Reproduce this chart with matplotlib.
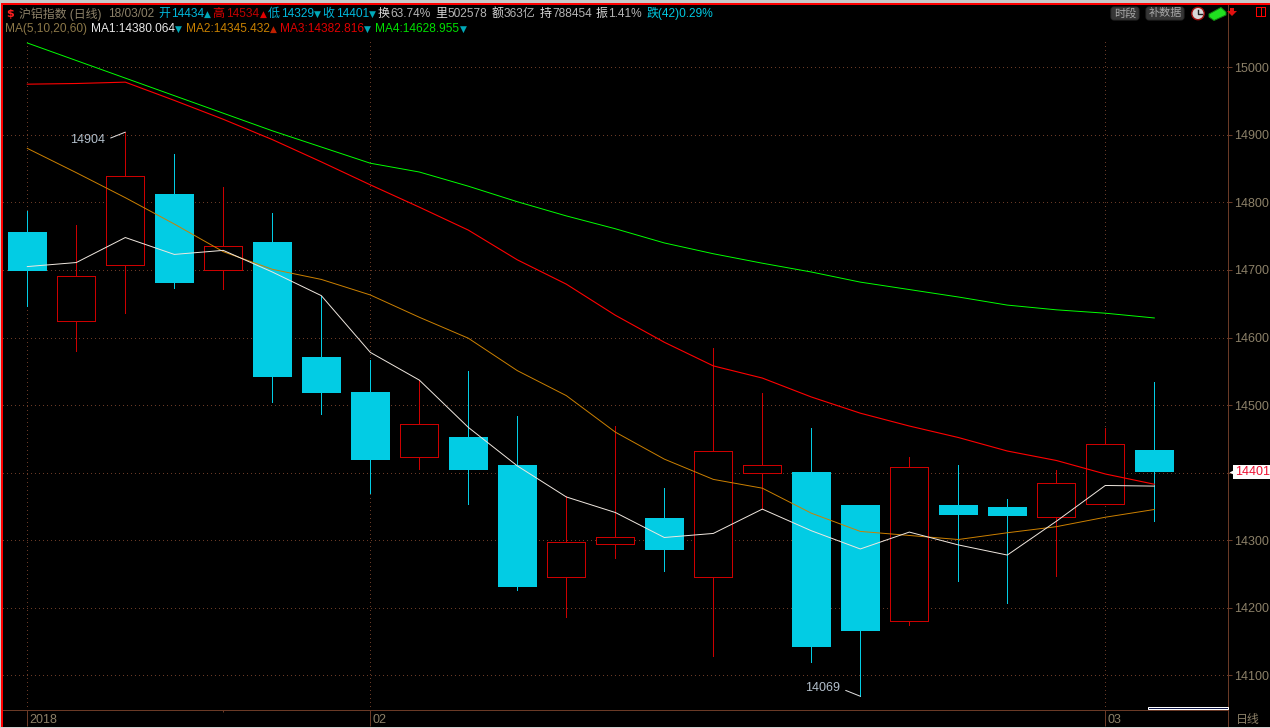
"""Daily candlestick chart of the Shanghai aluminium index with moving averages."""

import matplotlib

matplotlib.use("Agg")

import matplotlib.pyplot as plt
from matplotlib.patches import FancyBboxPatch, Rectangle, Circle, Polygon

OPENS = [14756, 14624, 14707, 14812, 14700, 14741, 14571, 14519, 14423, 14453, 14411, 14245,
         14294, 14333, 14245, 14399, 14401, 14352, 14181, 14352, 14349, 14335, 14353, 14434]
HIGHS = [14787, 14767, 14904, 14872, 14823, 14784, 14661, 14567, 14537, 14550, 14484, 14366,
         14469, 14377, 14585, 14518, 14466, 14352, 14423, 14411, 14361, 14404, 14466, 14534]
LOWS = [14647, 14580, 14637, 14674, 14672, 14504, 14487, 14370, 14406, 14353, 14227, 14187,
        14274, 14255, 14128, 14346, 14120, 14069, 14175, 14240, 14207, 14247, 14353, 14329]
CLOSES = [14698, 14691, 14839, 14681, 14735, 14541, 14518, 14418, 14472, 14404, 14231, 14298,
          14304, 14286, 14432, 14411, 14142, 14165, 14409, 14338, 14336, 14384, 14443, 14401]

MA1 = [14705, 14711, 14748, 14723, 14729, 14697, 14662, 14578, 14537, 14467, 14410, 14364,
       14341, 14304, 14310, 14346, 14314, 14287, 14312, 14293, 14278, 14328, 14381, 14380.064]
MA2 = [14880, 14844, 14807, 14768, 14727, 14701, 14686, 14663, 14630, 14599, 14551, 14514,
       14460, 14420, 14390, 14377, 14340, 14313, 14307, 14301, 14311, 14320, 14334, 14345.432]
MA3 = [14975, 14976, 14978, 14951, 14923, 14893, 14860, 14826, 14793, 14759, 14715, 14679,
       14633, 14593, 14558, 14540, 14512, 14488, 14469, 14452, 14432, 14418, 14398, 14382.816]
MA4 = [15036, 15010, 14984, 14958, 14932, 14906, 14882, 14858, 14845, 14824, 14801, 14780,
       14761, 14740, 14724, 14710, 14697, 14682, 14671, 14660, 14648, 14641, 14636, 14628.955]

Y_TICKS = [14100, 14200, 14300, 14400, 14500, 14600, 14700, 14800, 14900, 15000]
DATE_TICKS = [0, 7, 22]
DATE_LABELS = ["2018", "02", "03"]

CYAN = "#02cce4"
DARK_RED = "#cc0000"
AXIS = "#6a3a26"
GRID = "#6a3a26"
LABEL = "#8c8068"
FONT = ["Liberation Sans", "Noto Sans CJK SC", "DejaVu Sans"]
CJK_FONT = ["Noto Sans CJK SC", "DejaVu Sans"]
THIN = 0.72  # one pixel at dpi 100

W, H = 1270, 728

fig = plt.figure(figsize=(W / 100, H / 100), dpi=100, facecolor="black")

# left, right, top, bottom of the plot frame, in pixels
L, R, T, B = 3, 1228.3, 5, 710.3
ax = fig.add_axes([L / W, 1 - B / H, (R - L) / W, (B - T) / H], facecolor="black")
ax.set_xlim(-0.496, 24.51)
ax.set_ylim(14048.2, 15092.2)

# overlay in pixel coordinates for the header, buttons and frame decoration
ov = fig.add_axes([0, 0, 1, 1], facecolor="none", zorder=5)
ov.set_xlim(0, W)
ov.set_ylim(H, 0)
ov.axis("off")


def draw_grid():
    ax.hlines(Y_TICKS, -0.496, 24.51, colors=GRID, linewidth=THIN, linestyles=(0, (1, 4)),
              antialiased=False, zorder=1)
    ax.vlines(DATE_TICKS, 14048.2, 15040, colors=GRID, linewidth=THIN, linestyles=(0, (1, 4)),
              antialiased=False, zorder=1)


def draw_candles():
    for i, (o, h, l, c) in enumerate(zip(OPENS, HIGHS, LOWS, CLOSES)):
        up = c > o
        color = DARK_RED if up else CYAN
        top, bottom = max(o, c), min(o, c)
        ax.vlines(i, top, h, colors=color, linewidth=THIN, antialiased=False, zorder=2)
        ax.vlines(i, l, bottom, colors=color, linewidth=THIN, antialiased=False, zorder=2)
        if up:
            ax.bar(i, top - bottom, bottom=bottom, width=0.78, facecolor="black",
                   edgecolor=color, linewidth=THIN, antialiased=False, zorder=2)
        else:
            ax.bar(i, top - bottom, bottom=bottom, width=0.796, facecolor=color,
                   edgecolor="none", antialiased=False, zorder=2)


def draw_averages():
    x = range(len(MA1))
    ax.plot(x, MA4, color="#00ff00", linewidth=0.7, zorder=3)
    ax.plot(x, MA3, color="#ff0000", linewidth=0.8, zorder=3)
    ax.plot(x, MA2, color="#cc8000", linewidth=0.7, zorder=3)
    ax.plot(x, MA1, color="#f0e8e0", linewidth=0.7, zorder=3)


def draw_axes():
    for side in ("left", "top"):
        ax.spines[side].set_visible(False)
    for side in ("right", "bottom"):
        ax.spines[side].set_color(AXIS)
        ax.spines[side].set_linewidth(THIN)

    ax.yaxis.tick_right()
    ax.set_yticks(Y_TICKS)
    ax.set_yticklabels([str(v) for v in Y_TICKS], family=FONT, fontsize=9, color=LABEL)
    ax.tick_params(axis="y", length=3, width=THIN, color=AXIS, pad=1.5)

    ax.set_xticks(DATE_TICKS)
    ax.set_xticklabels([])
    ax.tick_params(axis="x", length=11.5, width=THIN, color=AXIS)
    for idx, label in zip(DATE_TICKS, DATE_LABELS):
        ax.annotate(label, xy=(idx, 0), xycoords=ax.get_xaxis_transform(), xytext=(2, -10),
                    textcoords="offset pixels", ha="left", va="center", family=FONT,
                    fontsize=9, color=LABEL)
    ax.vlines(4, 14045, 14048.2, colors=AXIS, linewidth=THIN, clip_on=False)


def draw_callouts():
    hi = max(HIGHS)
    lo = min(LOWS)
    for value, offset in ((hi, (-20, -8)), (lo, (-20, 8))):
        ax.annotate(str(value), xy=(HIGHS.index(value) if value == hi else LOWS.index(value), value),
                    xytext=offset, textcoords="offset pixels", ha="right", va="center",
                    family=FONT, fontsize=9, color="#b4c0cc", zorder=4,
                    arrowprops=dict(arrowstyle="-", color="#e0e0e0", linewidth=THIN,
                                    shrinkA=2, shrinkB=0, relpos=(1, 0.5)))


def draw_last_price():
    trans = ax.get_yaxis_transform()
    ax.plot([1.0037], [CLOSES[-1]], marker="<", markersize=6, color="white",
            markeredgecolor="none", transform=trans, clip_on=False, zorder=6)
    ax.text(1.0052, CLOSES[-1], str(CLOSES[-1]), transform=trans, ha="left", va="center",
            family=FONT, fontsize=9, color="#ee1133", clip_on=False, zorder=7,
            bbox=dict(boxstyle="square,pad=0.1", facecolor="white", edgecolor="none"))


def header_text(x, y, text, color):
    ov.text(x, y, text, ha="left", va="center", family=FONT, fontsize=8.6, color=color)


def header_mark(x, y, up, color):
    ov.text(x, y, "▲" if up else "▼", ha="left", va="center", family="DejaVu Sans",
            fontsize=6.5, color=color)


def draw_header():
    teal = "#00a8b8"
    blue = "#00b8dc"
    grey = "#b4b4b4"
    white = "#d8d8d8"
    y = 14
    ov.text(10, y, "$", ha="center", va="center", family="DejaVu Sans", fontsize=8,
            fontweight="bold", color="#ff2020")
    rows = [
        (19, "沪铝指数 (日线)", LABEL), (108, "18/03/02", LABEL),
        (158, "开", blue), (171, str(OPENS[-1]), blue),
        (212, "高", "#e00000"), (226, str(HIGHS[-1]), "#c00000"),
        (268, "低", blue), (281, str(LOWS[-1]), blue),
        (322, "收", blue), (336, str(CLOSES[-1]), blue),
        (378, "换", white), (390, "63.74%", grey),
        (435, "里", white), (447, "502578", grey),
        (492, "额", white), (504, "363亿", grey),
        (540, "持", white), (552, "788454", grey),
        (596, "振", white), (608, "1.41%", grey),
        (647, "跌(42)0.29%", "#00c8e0"),
    ]
    for x, text, color in rows:
        header_text(x, y, text, color)
    for x, up, color in ((204, True, teal), (260, True, "#e00000"), (314, False, teal),
                         (369, False, teal)):
        header_mark(x, y, up, color)

    y = 29
    header_text(5, y, "MA(5,10,20,60)", "#8c7848")
    header_text(90.5, y, f"MA1:{MA1[-1]:.3f}", "#e8e8e8")
    header_text(186, y, f"MA2:{MA2[-1]:.3f}", "#c88000")
    header_text(280, y, f"MA3:{MA3[-1]:.3f}", "#e00000")
    header_text(375, y, f"MA4:{MA4[-1]:.3f}", "#00e000")
    for x, up, color in ((175, False, teal), (270, True, "#c02000"), (364, False, teal),
                         (460, False, teal)):
        header_mark(x, y, up, color)


def draw_toolbar():
    for x0, x1, label in ((1111, 1139, "时段"), (1146, 1184, "补数据")):
        ov.add_patch(FancyBboxPatch((x0, 7), x1 - x0, 13, boxstyle="round,pad=0,rounding_size=3",
                                    facecolor="#363636", edgecolor="#2a2a2a", linewidth=THIN))
        ov.text((x0 + x1) / 2, 13.2, label, ha="center", va="center", family=CJK_FONT,
                fontsize=8, color="#a8a8a8")
    # clock
    ov.add_patch(Circle((1198, 13.5), 6.2, facecolor="#d8d8d8", edgecolor="#a01010", linewidth=1))
    ov.plot([1198, 1198, 1202], [9.5, 14, 14], color="#202020", linewidth=1)
    # green book
    ov.add_patch(Polygon([(1209, 14), (1221, 7.5), (1226, 12), (1226, 15), (1214, 20.5), (1209, 17)],
                         facecolor="#20e020", edgecolor="#108010", linewidth=THIN))
    # red download arrow
    ov.add_patch(Polygon([(1230, 8), (1234, 8), (1234, 11), (1237, 11), (1232, 16), (1227, 11),
                          (1230, 11)], facecolor="#e01010", edgecolor="none"))


def draw_split_icon():
    # drawn on the main figure so nothing in the overlay can cover it
    for x0, x1, y0, y1 in ((1256, 1266, 7, 8), (1256, 1266, 16, 17), (1256, 1257, 7, 17),
                           (1265, 1266, 7, 17), (1260.5, 1261.5, 7, 17)):
        fig.patches.append(Rectangle((x0 / W, 1 - y1 / H), (x1 - x0) / W, (y1 - y0) / H,
                                     transform=fig.transFigure, facecolor="#ff0000",
                                     edgecolor="none", figure=fig, zorder=20))


def draw_frame():
    ov.add_patch(Rectangle((0, 0), W, 3, facecolor="#c8c8c8", edgecolor="none"))
    ov.add_patch(Rectangle((0, 3), W, 2, facecolor="#ff0000", edgecolor="none"))
    ov.add_patch(Rectangle((0, 0), 1, H, facecolor="#c8c8c8", edgecolor="none"))
    ov.add_patch(Rectangle((1, 3), 1.6, H, facecolor="#ff0000", edgecolor="none"))
    ov.add_patch(Rectangle((0, 726.8), W, 1.2, facecolor="#d0d0d0", edgecolor="none"))
    # scroll thumb above the date strip
    ov.add_patch(Rectangle((1147.5, 706.5), 80, 2, facecolor="#101848", edgecolor="white",
                           linewidth=THIN))
    ov.plot([R, R], [B, 726], color=AXIS, linewidth=THIN)
    ov.text(1236, 720, "日线", ha="left", va="center", family=CJK_FONT, fontsize=8.6, color=LABEL)


draw_grid()
draw_candles()
draw_averages()
draw_axes()
draw_callouts()
draw_last_price()
draw_header()
draw_toolbar()
draw_split_icon()
draw_frame()

fig.savefig("out.png", dpi=100, facecolor="black")
